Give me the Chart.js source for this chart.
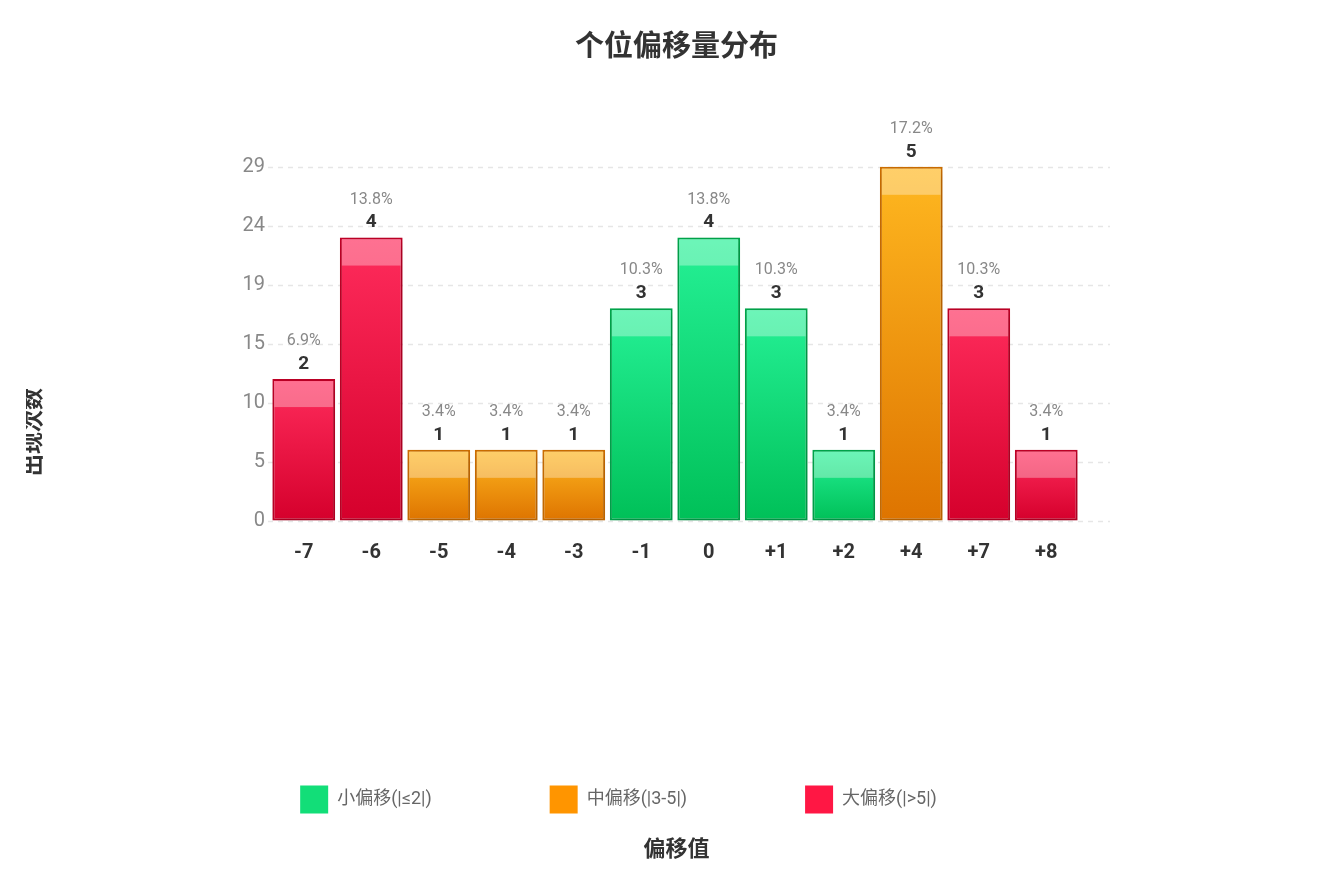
<!DOCTYPE html>
<html lang="zh-CN">
<head>
<meta charset="utf-8">
<title>个位偏移量分布</title>
<script src="https://cdn.jsdelivr.net/npm/chart.js@4.4.1/dist/chart.umd.min.js"></script>
<style>
	html, body { margin: 0; padding: 0; background: #fff; overflow: hidden; }
	.chart-wrap { position: absolute; left: 26px; top: 0; width: 1301px; height: 874px; }
</style>
</head>
<body>
<div class="chart-wrap"><canvas id="offsetChart"></canvas></div>
<script>
// chart data
const offsets = ['-7', '-6', '-5', '-4', '-3', '-1', '0', '+1', '+2', '+4', '+7', '+8'];
const counts = [2, 4, 1, 1, 1, 3, 4, 3, 1, 5, 3, 1];
const percents = ['6.9%', '13.8%', '3.4%', '3.4%', '3.4%', '10.3%', '13.8%', '10.3%', '3.4%', '17.2%', '10.3%', '3.4%'];
const groups = ['large', 'large', 'mid', 'mid', 'mid', 'small', 'small', 'small', 'small', 'mid', 'large', 'large'];
const groupKeys = ['small', 'mid', 'large'];
const groupLabels = ['小偏移(|≤2|)', '中偏移(|3-5|)', '大偏移(|>5|)'];
const yTickLabels = ['0', '5', '10', '15', '19', '24', '29'];

const FONT = 'Roboto, "Noto Sans CJK SC", sans-serif';

// colours per group: gradient top, gradient bottom, border, legend
const palette = {
	small: { top: '#25f196', bottom: '#00c058', border: '#00a84c', legend: '#12de78' },
	mid: { top: '#ffb820', bottom: '#de7400', border: '#cf6f00', legend: '#ff9500' },
	large: { top: '#ff2c5c', bottom: '#d5002c', border: '#c20026', legend: '#ff1744' }
};

function barFill(context, key) {
	const chart = context.chart;
	const c = palette[key];
	if (!chart.chartArea || context.raw == null) return c.bottom;
	const y = chart.scales.y;
	const g = chart.ctx.createLinearGradient(0, y.getPixelForValue(context.raw), 0, y.getPixelForValue(0));
	g.addColorStop(0, c.top);
	g.addColorStop(1, c.bottom);
	return g;
}

const datasets = groupKeys.map((key, gi) => ({
	label: groupLabels[gi],
	data: counts.map((v, i) => (groups[i] === key ? v : null)),
	backgroundColor: (context) => barFill(context, key),
	borderColor: palette[key].border,
	borderWidth: 2,
	borderSkipped: false,
	barPercentage: 0.93,
	categoryPercentage: 1,
	clip: false
}));

// dashed grid lines, a bit wider than the plot area
const dashedGrid = {
	id: 'dashedGrid',
	beforeDatasetsDraw(chart) {
		const { ctx, chartArea, scales } = chart;
		ctx.save();
		ctx.strokeStyle = '#e6e6e6';
		ctx.lineWidth = 1.5;
		ctx.setLineDash([5, 5]);
		scales.y.ticks.forEach(t => {
			const y = Math.round(scales.y.getPixelForValue(t.value)) + 0.5;
			ctx.beginPath();
			ctx.moveTo(chartArea.left - 2, y);
			ctx.lineTo(chartArea.right + 30, y);
			ctx.stroke();
		});
		ctx.restore();
		// soft shadow under the bars
		ctx.save();
		ctx.shadowColor = 'rgba(0, 0, 0, 0.2)';
		ctx.shadowBlur = 10;
		ctx.shadowOffsetX = 2;
		ctx.shadowOffsetY = 3;
	},
	afterDatasetsDraw(chart) {
		chart.ctx.restore();
	}
};

// glossy band on top of each bar + count / percent labels
const barLabels = {
	id: 'barLabels',
	afterDatasetsDraw(chart) {
		const ctx = chart.ctx;
		ctx.save();
		chart.data.datasets.forEach((ds, di) => {
			const meta = chart.getDatasetMeta(di);
			meta.data.forEach((bar, i) => {
				if (ds.data[i] == null) return;
				const left = bar.x - bar.width / 2 + 2;
				const w = bar.width - 4;
				const h = Math.min(26, bar.base - bar.y - 4);
				ctx.fillStyle = 'rgba(255, 255, 255, 0.33)';
				ctx.fillRect(left, bar.y + 2, w, h);

				ctx.textAlign = 'center';
				ctx.textBaseline = 'middle';
				ctx.fillStyle = '#333';
				ctx.font = 'bold 19px ' + FONT;
				ctx.fillText(String(counts[i]), bar.x, bar.y - 15);
				ctx.fillStyle = '#888';
				ctx.font = '16px ' + FONT;
				ctx.fillText(percents[i], bar.x, bar.y - 38);
			});
		});
		ctx.restore();
	}
};

// y axis title, centred on the canvas height
const yTitle = {
	id: 'yTitle',
	afterDraw(chart) {
		const ctx = chart.ctx;
		ctx.save();
		ctx.translate(8, chart.height / 2 - 5);
		ctx.rotate(-Math.PI / 2);
		ctx.textAlign = 'center';
		ctx.textBaseline = 'middle';
		ctx.fillStyle = '#333';
		ctx.font = 'bold 22px ' + FONT;
		ctx.fillText('出现次数', 0, 0);
		ctx.restore();
	}
};

// the legend row sits left of centre in the original
const legendShift = {
	id: 'legendShift',
	afterLayout(chart) {
		if (!chart.legend) return;
		chart.legend.left -= 58;
		chart.legend.right -= 58;
	}
};

new Chart(document.getElementById('offsetChart'), {
	type: 'bar',
	data: { labels: offsets, datasets },
	plugins: [dashedGrid, barLabels, yTitle, legendShift],
	options: {
		responsive: true,
		maintainAspectRatio: false,
		animation: false,
		layout: { padding: 0 },
		plugins: {
			title: {
				display: true,
				text: '个位偏移量分布',
				color: '#333',
				font: { family: FONT, size: 29, weight: 'bold' },
				padding: { top: 31, bottom: 101 }
			},
			subtitle: {
				display: true,
				text: '偏移值',
				position: 'bottom',
				color: '#333',
				font: { family: FONT, size: 22, weight: 'bold' },
				padding: { top: 14, bottom: 10 }
			},
			legend: {
				position: 'bottom',
				labels: {
					boxWidth: 28,
					boxHeight: 28,
					padding: 118,
					color: '#666',
					font: { family: FONT, size: 18 },
					generateLabels: (chart) => chart.data.datasets.map((ds, i) => ({
						text: ds.label,
						fillStyle: palette[groupKeys[i]].legend,
						strokeStyle: palette[groupKeys[i]].legend,
						lineWidth: 0,
						fontColor: '#666',
						hidden: false,
						datasetIndex: i
					}))
				}
			},
			tooltip: { enabled: false }
		},
		scales: {
			x: {
				stacked: true,
				grid: { display: false },
				border: { display: false },
				ticks: { color: '#333', padding: 12, font: { family: FONT, size: 20, weight: 'bold' } },
				afterFit: (axis) => { axis.height = 147; }
			},
			y: {
				stacked: true,
				min: 0,
				max: 5,
				grid: { display: false, drawTicks: false },
				border: { display: false },
				ticks: {
					count: 7,
					padding: 5,
					color: '#888',
					font: { family: FONT, size: 20 },
					callback: (value, index) => yTickLabels[index]
				},
				afterFit: (axis) => { axis.width = 244; }
			},
			yRight: {
				position: 'right',
				grid: { display: false },
				border: { display: false },
				ticks: { display: false },
				afterFit: (axis) => { axis.width = 247; }
			}
		}
	}
});
</script>
</body>
</html>
